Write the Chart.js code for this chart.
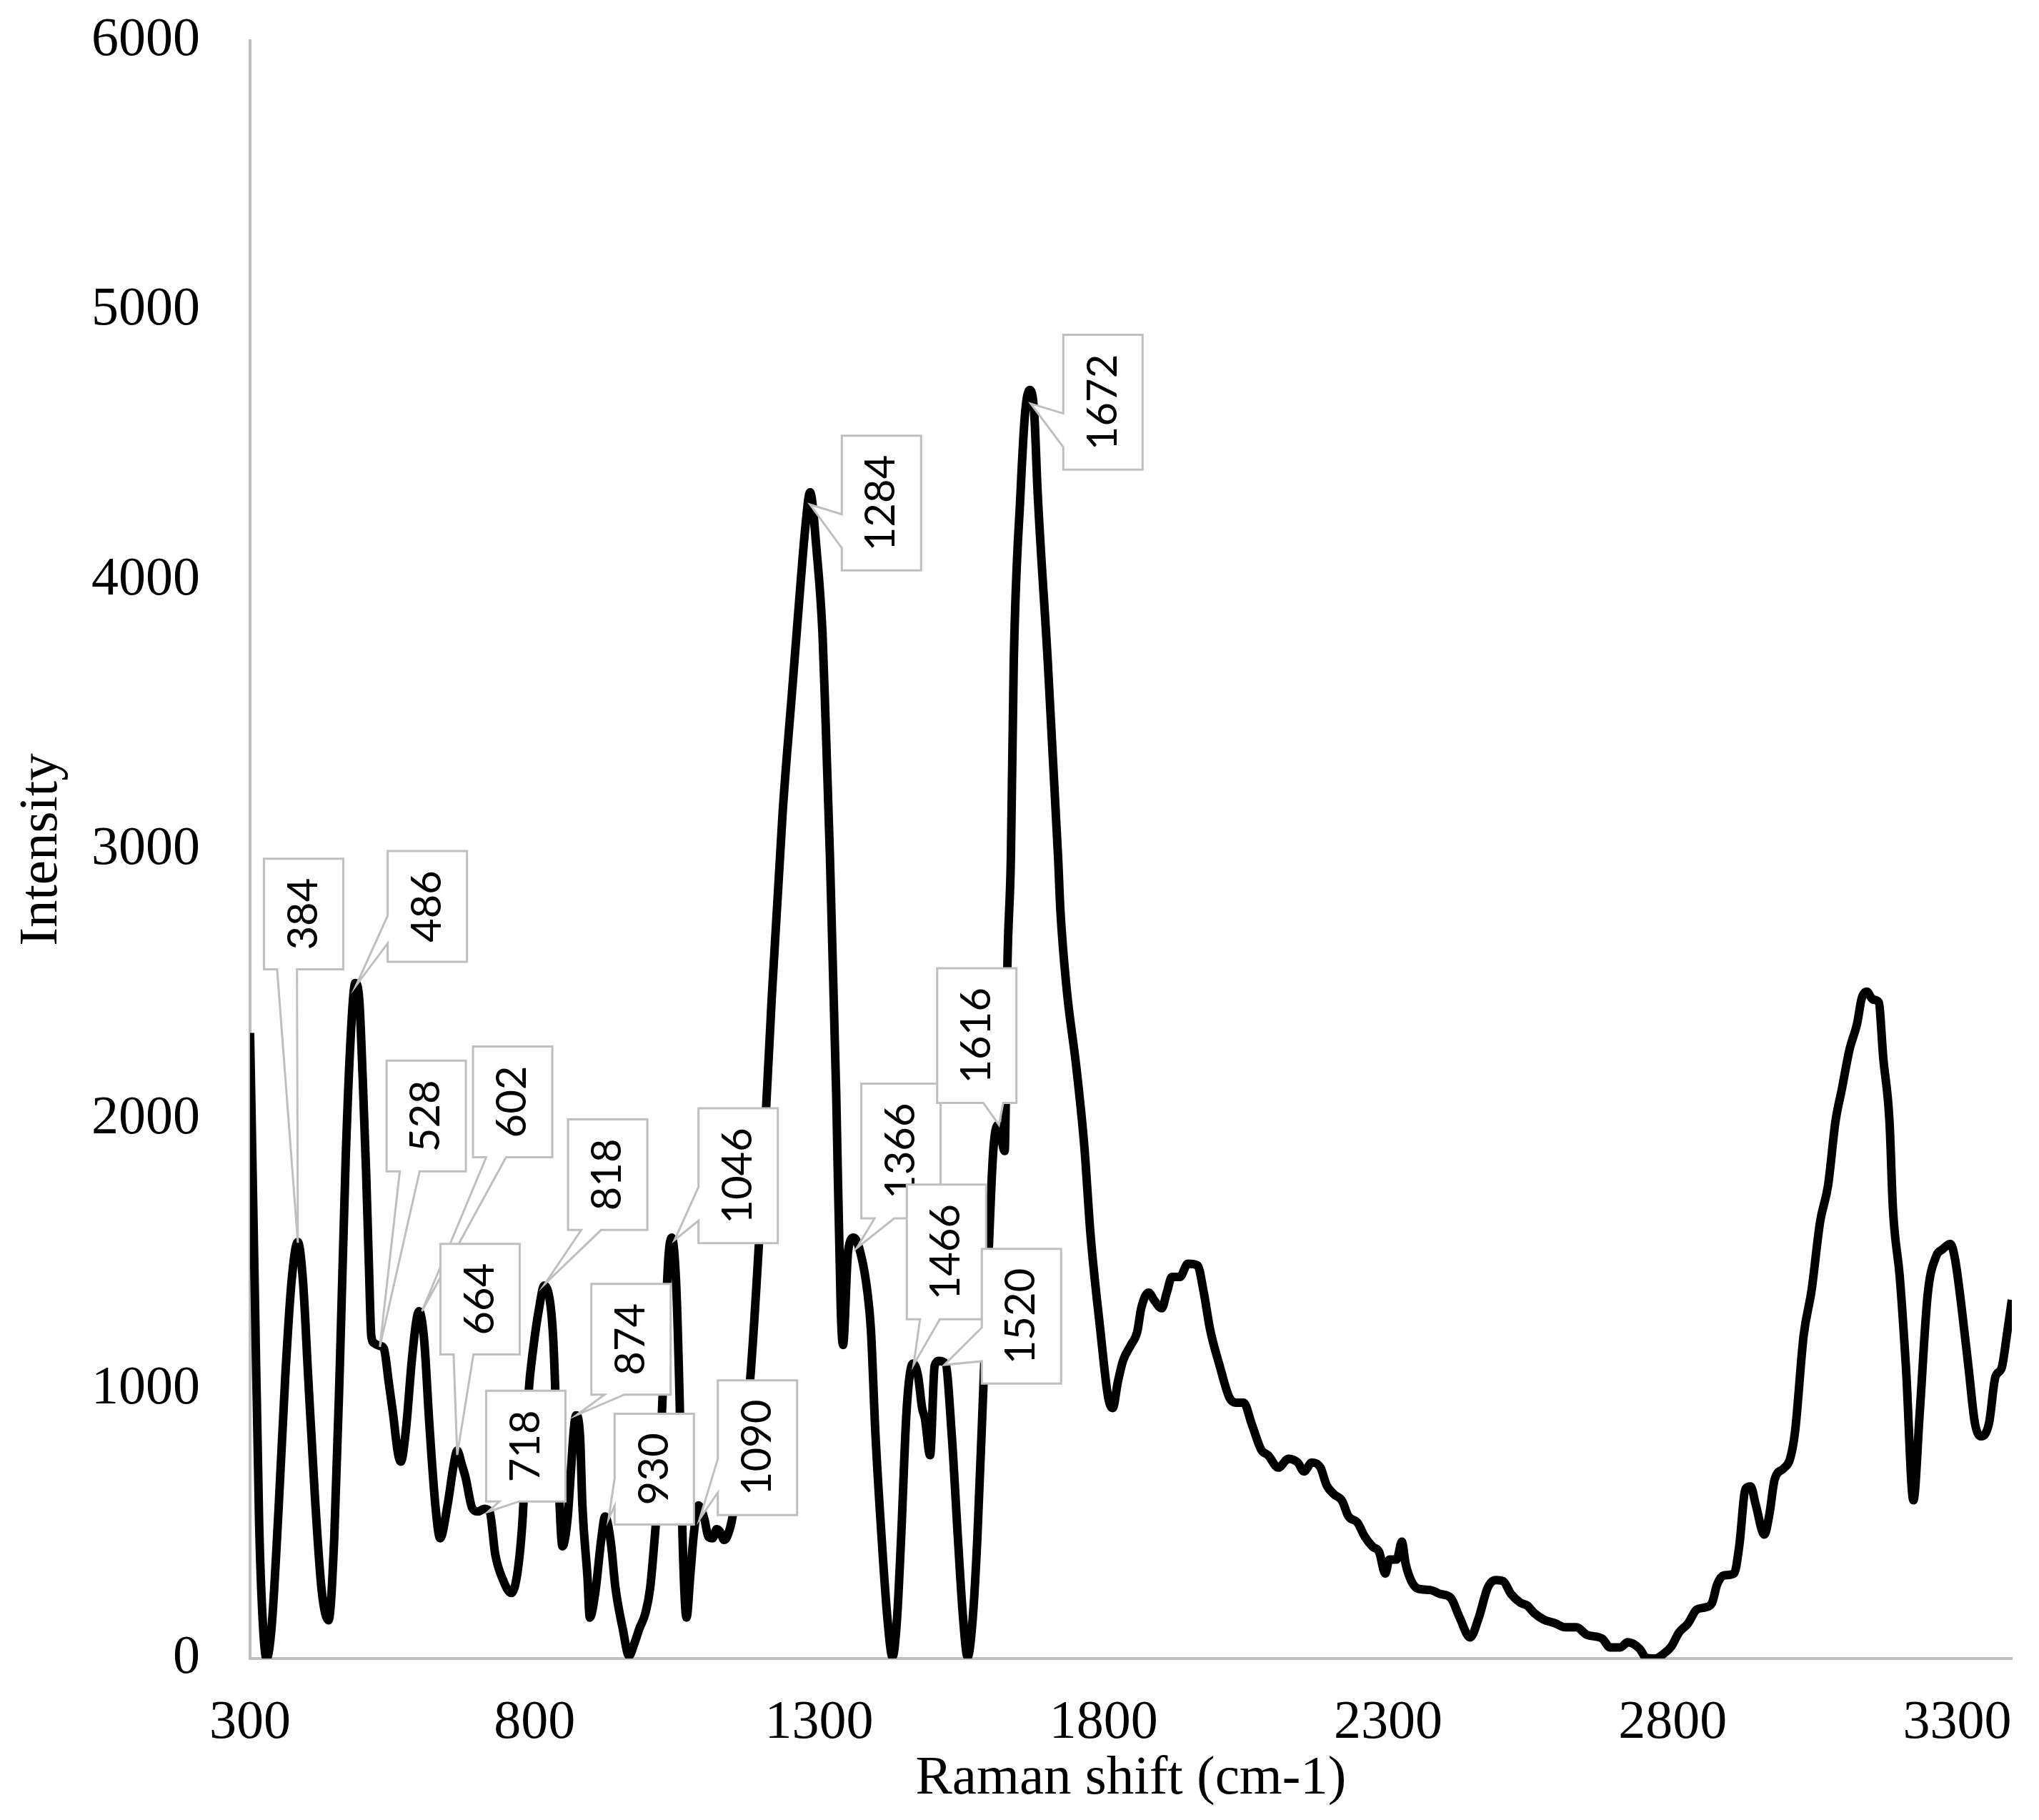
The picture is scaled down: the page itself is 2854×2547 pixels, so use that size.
<!DOCTYPE html>
<html>
<head>
<meta charset="utf-8">
<script src="https://cdn.jsdelivr.net/npm/chart.js@4.4.1/dist/chart.umd.min.js"></script>
<style>
  html, body { margin: 0; padding: 0; background: #ffffff; }
  canvas { display: block; }
</style>
</head>
<body>
<canvas id="c" width="2854" height="2547" style="width:2854px;height:2547px"></canvas>
<script>
// ---- Data ----
const shift = [300,308,316,322,329,338,350,362,373,384,393,402,414,426,438,448,458,468,478,485,492,498,504,509,513,518,527,535,544,551,560,565,574,584,592,597,606,615,626,634,647,658,664,672,679,690,700,712,721,731,744,759,770,779,789,798,808,817,828,833,842,849,858,864,869,873,880,884,893,897,907,917,924,934,942,955,966,976,984,995,1003,1010,1018,1025,1035,1041,1049,1055,1060,1067,1074,1080,1088,1098,1106,1113,1120,1126,1133,1138,1148,1162,1178,1197,1217,1236,1253,1266,1276,1284,1296,1306,1311,1319,1330,1338,1342,1351,1361,1374,1385,1391,1399,1410,1420,1429,1437,1444,1454,1465,1474,1481,1486,1495,1503,1510,1522,1533,1544,1553,1561,1570,1578,1589,1598,1606,1614,1620,1626,1631,1637,1642,1654,1662,1670,1678,1684,1702,1720,1724,1735,1752,1766,1777,1794,1808,1816,1825,1834,1848,1859,1866,1879,1889,1902,1911,1920,1934,1948,1965,1976,1987,2004,2021,2032,2046,2060,2077,2089,2107,2125,2141,2152,2166,2181,2192,2205,2219,2230,2246,2259,2273,2284,2295,2302,2315,2324,2331,2342,2354,2374,2392,2410,2426,2444,2459,2475,2489,2502,2516,2533,2544,2557,2573,2593,2611,2631,2649,2676,2690,2708,2721,2742,2753,2769,2784,2798,2811,2827,2842,2856,2869,2878,2890,2908,2917,2928,2937,2946,2961,2970,2979,2995,3006,3015,3030,3044,3059,3073,3086,3097,3111,3124,3132,3141,3152,3162,3170,3181,3187,3199,3210,3223,3234,3248,3263,3274,3288,3296,3307,3320,3331,3342,3356,3367,3378,3387,3396];
const intensity = [2320,1400,500,150,0,120,550,1050,1400,1545,1400,1050,600,250,142,450,1100,1850,2350,2505,2440,2150,1800,1450,1197,1170,1160,1150,1020,913,760,730,850,1100,1250,1288,1180,872,560,446,568,720,771,720,669,560,545,555,545,385,294,243,320,520,973,1156,1300,1383,1310,1176,669,416,520,700,850,902,820,568,300,152,250,440,527,430,264,110,10,60,110,170,260,420,650,973,1480,1561,1380,950,450,152,320,466,568,520,450,446,480,470,440,450,527,760,1014,1640,2460,3140,3600,3950,4200,4325,4100,3800,3500,2977,2098,1300,1163,1512,1561,1493,1357,1221,832,443,150,6,150,443,929,1094,1046,929,890,754,1085,1104,1094,832,443,150,6,150,443,1026,1512,1882,1979,1930,1882,2582,2970,3691,4325,4620,4705,4620,4325,3691,2970,2776,2484,2193,1901,1571,1221,968,929,1026,1104,1163,1211,1299,1357,1328,1299,1357,1415,1415,1464,1458,1357,1221,1085,968,949,949,871,774,754,708,741,727,694,727,708,642,609,585,528,504,452,414,396,315,367,367,433,348,282,258,254,239,225,150,78,150,263,291,287,239,206,197,168,145,131,116,116,88,74,41,41,60,36,3,0,17,46,96,130,181,189,206,274,308,316,418,629,638,570,460,536,663,705,739,841,1196,1365,1619,1754,1991,2109,2261,2354,2447,2473,2444,2434,2228,1991,1669,1416,1077,587,908,1348,1492,1517,1538,1483,1314,1077,874,824,874,1044,1077,1196,1330];

const xTickValues = [300, 800, 1300, 1800, 2300, 2800, 3300];
const yTickValues = [0, 1000, 2000, 3000, 4000, 5000, 6000];

// Labelled peaks: wavenumber label and intensity at the callout tip
const peakShift = [384, 486, 528, 602, 664, 718, 818, 874, 930, 1046, 1090, 1284, 1366, 1466, 1520, 1616, 1672];
const peakIntensity = [1542, 2495, 1156, 1288, 755, 544, 1389, 903, 517, 1552, 517, 4280, 1522, 1089, 1089, 1979, 4654];

// ---- Layout of the callout boxes (pixel offset of box centre from its tip) ----
const calloutOffset = [
  [8, -460], [100, -111], [65, -323], [127, -293], [32, -218], [53, -92],
  [88, -153], [76, -106], [64, -70], [89, -90], [81, -100], [100, -2],
  [62, -136], [46, -158], [108, -68], [-31, -125], [101, -2]
];

const AXIS_GRAY = '#BFBFBF';
const SERIF = '"Liberation Serif", "Times New Roman", serif';

const calloutPlugin = {
  id: 'callouts',
  afterDatasetsDraw(chart) {
    const { ctx } = chart;
    const xs = chart.scales.x, ys = chart.scales.y;
    ctx.save();
    ctx.font = '58px Lato';
    peakShift.forEach((p, i) => {
      const ax = xs.getPixelForValue(p);
      const ay = ys.getPixelForValue(peakIntensity[i]);
      const [dx, dy] = calloutOffset[i];
      const text = String(p);
      const tw = ctx.measureText(text).width;
      const w = 111, h = tw + 54;
      const cx = ax + dx, cy = ay + dy;
      const L = cx - w / 2, R = cx + w / 2, T = cy - h / 2, B = cy + h / 2;
      const outX = Math.max(L - ax, ax - R, 0);
      const outY = Math.max(T - ay, ay - B, 0);
      let edge;
      if (outX > outY) edge = ax < L ? 'left' : 'right';
      else edge = ay > B ? 'bottom' : 'top';
      const fx = ax < cx ? [1 / 6, 5 / 12] : [7 / 12, 5 / 6];
      const fy = ay < cy ? [1 / 6, 5 / 12] : [7 / 12, 5 / 6];
      const pts = [];
      pts.push([L, T]);
      if (edge === 'top') { pts.push([L + fx[0] * w, T], [ax, ay], [L + fx[1] * w, T]); }
      pts.push([R, T]);
      if (edge === 'right') { pts.push([R, T + fy[0] * h], [ax, ay], [R, T + fy[1] * h]); }
      pts.push([R, B]);
      if (edge === 'bottom') { pts.push([L + fx[1] * w, B], [ax, ay], [L + fx[0] * w, B]); }
      pts.push([L, B]);
      if (edge === 'left') { pts.push([L, T + fy[1] * h], [ax, ay], [L, T + fy[0] * h]); }
      ctx.beginPath();
      pts.forEach(([px, py], k) => k ? ctx.lineTo(px, py) : ctx.moveTo(px, py));
      ctx.closePath();
      ctx.fillStyle = '#ffffff';
      ctx.fill();
      ctx.lineWidth = 3;
      ctx.strokeStyle = AXIS_GRAY;
      ctx.lineJoin = 'miter';
      ctx.stroke();
      ctx.save();
      ctx.translate(cx, cy);
      ctx.rotate(-Math.PI / 2);
      ctx.fillStyle = '#000000';
      ctx.textAlign = 'center';
      ctx.textBaseline = 'middle';
      ctx.fillText(text, 0, 0);
      ctx.restore();
    });
    ctx.restore();
  }
};

new Chart(document.getElementById('c'), {
  type: 'line',
  data: {
    datasets: [{
      data: shift.map((x, i) => ({ x, y: intensity[i] })),
      borderColor: '#000000',
      borderWidth: 12,
      pointRadius: 0,
      cubicInterpolationMode: 'monotone',
      fill: false
    }]
  },
  options: {
    responsive: false,
    animation: false,
    devicePixelRatio: 1,
    layout: { padding: { top: 57, right: 38, left: 0, bottom: 0 } },
    plugins: { legend: { display: false }, tooltip: { enabled: false } },
    scales: {
      x: {
        type: 'linear', min: 300, max: 3396,
        afterBuildTicks: s => { s.ticks = xTickValues.map(v => ({ value: v })); },
        afterFit: s => { s.height = 226; s.paddingLeft = 0; s.paddingRight = 0; },
        grid: { display: false, drawTicks: false },
        border: { display: true, color: AXIS_GRAY, width: 4 },
        ticks: { color: '#000', font: { family: SERIF, size: 76 }, padding: 45, maxRotation: 0, autoSkip: false, callback: v => String(v) },
        title: { display: true, text: 'Raman shift (cm-1)', color: '#000', font: { family: SERIF, size: 77 }, padding: { top: 0, bottom: 11 } }
      },
      y: {
        min: 0, max: 6000,
        afterBuildTicks: s => { s.ticks = yTickValues.map(v => ({ value: v })); },
        afterFit: s => { s.width = 350; s.paddingTop = 0; s.paddingBottom = 0; },
        grid: { display: false, drawTicks: false },
        border: { display: true, color: AXIS_GRAY, width: 4 },
        ticks: { color: '#000', font: { family: SERIF, size: 76 }, padding: 70, callback: v => String(v) },
        title: { display: true, text: 'Intensity', color: '#000', font: { family: SERIF, size: 77 }, padding: { top: 13, bottom: 0 } }
      }
    }
  },
  plugins: [calloutPlugin]
});
</script>
</body>
</html>
